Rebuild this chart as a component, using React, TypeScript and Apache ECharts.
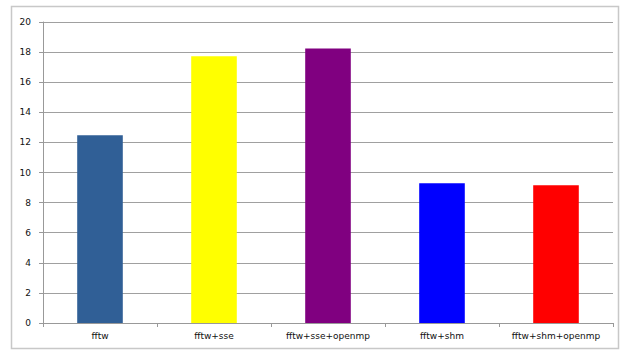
import React, { useEffect, useRef } from "react";
import * as echarts from "echarts";

const categories = ["fftw", "fftw+sse", "fftw+sse+openmp", "fftw+shm", "fftw+shm+openmp"];
const values = [12.47, 17.73, 18.24, 9.28, 9.15];
const colors = ["#305f96", "#ffff00", "#800080", "#0000ff", "#ff0000"];

export default function App() {
  const ref = useRef<HTMLDivElement>(null);
  useEffect(() => {
    const chart = echarts.init(ref.current!, null, { renderer: "svg" });
    chart.setOption({
      animation: false,
      backgroundColor: "#ffffff",
      graphic: [
        {
          type: "rect",
          shape: { x: 11.5, y: 6.5, width: 607, height: 342 },
          style: { fill: "none", stroke: "#c8c8c8", lineWidth: 1.5 },
          silent: true,
        },
      ],
      grid: { left: 43, top: 22, right: 11, bottom: 28, containLabel: false },
      xAxis: {
        type: "category",
        data: categories,
        axisLine: { lineStyle: { color: "#999999" } },
        axisTick: { show: true, length: 4, lineStyle: { color: "#999999" } },
        axisLabel: {
          interval: 0,
          color: "#111111",
          fontSize: 9,
          fontFamily: "DejaVu Sans",
          margin: 8,
        },
      },
      yAxis: {
        type: "value",
        min: 0,
        max: 20,
        interval: 2,
        axisLine: { show: true, lineStyle: { color: "#999999" } },
        axisTick: { show: true, length: 4, lineStyle: { color: "#999999" } },
        splitLine: { lineStyle: { color: "#a0a0a0" } },
        axisLabel: { color: "#111111", fontSize: 9, fontFamily: "DejaVu Sans", margin: 12 },
      },
      series: [
        {
          type: "bar",
          barWidth: "40%",
          data: values.map((v, i) => ({ value: v, itemStyle: { color: colors[i] } })),
        },
      ],
    });
    return () => chart.dispose();
  }, []);
  return (
    <div
      ref={ref}
      style={{ position: "fixed", left: 0, top: 0, width: 624, height: 351 }}
    />
  );
}
